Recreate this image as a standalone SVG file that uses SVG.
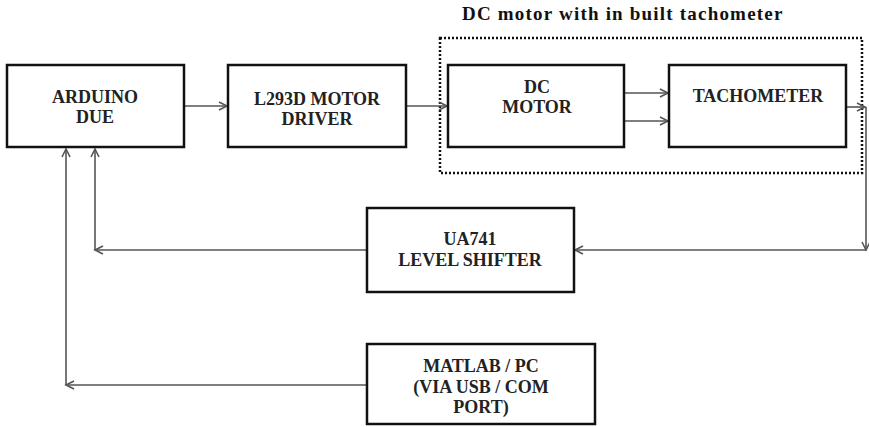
<svg xmlns="http://www.w3.org/2000/svg" width="869" height="427" viewBox="0 0 869 427">
<defs>
<style>
.box{fill:#fff;stroke:#111;stroke-width:2.5}
.lbl{font-family:'Liberation Serif',serif;font-weight:bold;font-size:18px;fill:#222;text-anchor:middle}
.title{font-family:'Liberation Serif',serif;font-weight:bold;font-size:19px;fill:#111;letter-spacing:1.2px}
.con{fill:none;stroke:#555;stroke-width:1.6}
</style>
<marker id="ar" markerUnits="userSpaceOnUse" markerWidth="12" markerHeight="12" refX="9" refY="5" orient="auto">
<path d="M1,1 L9,5 L1,9" fill="none" stroke="#555" stroke-width="1.6"/>
</marker>
</defs>
<rect width="869" height="427" fill="#fff"/>
<text class="title" x="462" y="20">DC motor with in built tachometer</text>
<rect x="440" y="38" width="422" height="135" fill="none" stroke="#111" stroke-width="2.5" stroke-dasharray="2,2"/>
<g id="connectors">
<path class="con" d="M184,106 H227" marker-end="url(#ar)"/>
<path class="con" d="M406,106 H447" marker-end="url(#ar)"/>
<path class="con" d="M624,93 H668" marker-end="url(#ar)"/>
<path class="con" d="M624,121 H668" marker-end="url(#ar)"/>
<path class="con" d="M846,107 H865" marker-end="url(#ar)"/>
<path class="con" d="M866,107 V250" marker-end="url(#ar)"/>
<path class="con" d="M866,250 H575" marker-end="url(#ar)"/>
<path class="con" d="M367,250 H95" marker-end="url(#ar)"/>
<path class="con" d="M95,250 V149" marker-end="url(#ar)"/>
<path class="con" d="M367,385 H66" marker-end="url(#ar)"/>
<path class="con" d="M66,385 V149" marker-end="url(#ar)"/>
</g>
<g id="arduino">
<rect class="box" x="7" y="65" width="177" height="82"/>
<text class="lbl" x="95" y="103">ARDUINO</text>
<text class="lbl" x="95" y="123">DUE</text>
</g>
<g id="l293d">
<rect class="box" x="228" y="65" width="178" height="82"/>
<text class="lbl" x="317" y="105">L293D MOTOR</text>
<text class="lbl" x="317" y="125">DRIVER</text>
</g>
<g id="dcmotor">
<rect class="box" x="448" y="65" width="176" height="82"/>
<text class="lbl" x="537" y="93">DC</text>
<text class="lbl" x="537" y="113">MOTOR</text>
</g>
<g id="tachometer">
<rect class="box" x="669" y="65" width="177" height="82"/>
<text class="lbl" x="758" y="102">TACHOMETER</text>
</g>
<g id="levelshifter">
<rect class="box" x="367" y="208" width="207" height="84"/>
<text class="lbl" x="470" y="245">UA741</text>
<text class="lbl" x="470" y="266">LEVEL SHIFTER</text>
</g>
<g id="matlab">
<rect class="box" x="367" y="344" width="228" height="80"/>
<text class="lbl" x="481" y="372">MATLAB / PC</text>
<text class="lbl" x="481" y="393">(VIA USB / COM</text>
<text class="lbl" x="481" y="413">PORT)</text>
</g>
</svg>
